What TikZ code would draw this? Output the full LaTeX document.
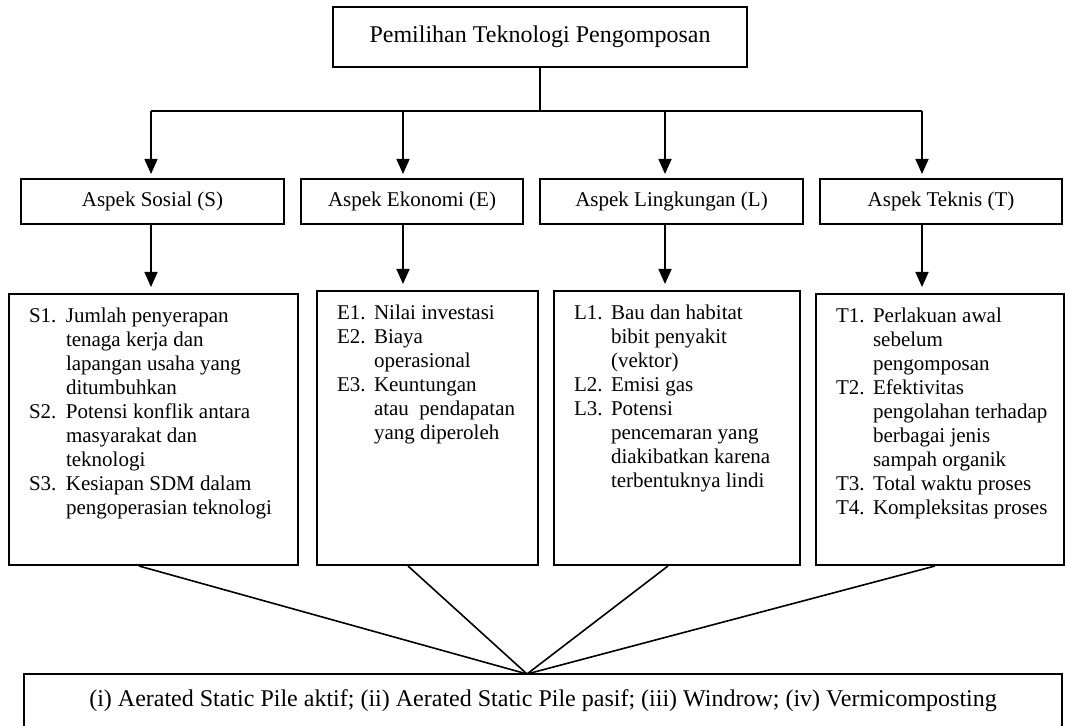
\documentclass[tikz,border=0pt]{standalone}
\usepackage{fontspec}
\setmainfont{Liberation Serif}
\usetikzlibrary{arrows.meta}

% isi kotak kriteria: lebar, tinggi, baris-baris
\newcommand{\isi}[3]{\parbox[c][#2][t]{#1}{\begin{tabular}{@{}p{18.5pt}@{}l@{}}#3\end{tabular}}}

\begin{document}
\begin{tikzpicture}[x=0.5pt, y=-0.5pt,
    judul/.style={draw, line width=1pt, inner sep=0pt, font=\fontsize{12}{14}\selectfont},
    aspek/.style={draw, line width=1pt, minimum height=22.5pt, inner sep=0pt, font=\fontsize{10.5}{12}\selectfont},
    kotak/.style={draw, line width=1pt, anchor=north west, inner xsep=10pt, inner ysep=6pt, font=\fontsize{10.5}{12}\selectfont},
    panah/.style={line width=0.8pt, -{Triangle[length=7.5pt, width=6.5pt]}},
    garis/.style={line width=0.8pt}]
    \useasboundingbox (0,0) rectangle (1065,726);

    % Judul
    \node[judul, minimum width=207pt, minimum height=30pt] (pilih) at (540,37) {Pemilihan Teknologi Pengomposan};

    % Aspek
    \node[aspek, minimum width=131.5pt] (aspS) at (152.5,201.5) {Aspek Sosial (S)};
    \node[aspek, minimum width=111pt] (aspE) at (412,201.5) {Aspek Ekonomi (E)};
    \node[aspek, minimum width=131.5pt] (aspL) at (671.5,201.5) {Aspek Lingkungan (L)};
    \node[aspek, minimum width=121pt] (aspT) at (941,201.5) {Aspek Teknis (T)};

    % Kriteria
    \node[kotak] (isiS) at (8,293) {\isi{124.5pt}{123.5pt}{%
        S1. & Jumlah penyerapan\\ & tenaga kerja dan\\ & lapangan usaha yang\\ & ditumbuhkan\\
        S2. & Potensi konflik antara\\ & masyarakat dan\\ & teknologi\\
        S3. & Kesiapan SDM dalam\\ & pengoperasian teknologi}};
    \node[kotak] (isiE) at (316,290) {\isi{90.5pt}{125pt}{%
        E1. & Nilai investasi\\
        E2. & Biaya\\ & operasional\\
        E3. & Keuntungan\\ & atau\ \ pendapatan\\ & yang diperoleh}};
    \node[kotak] (isiL) at (553,290) {\isi{103pt}{125pt}{%
        L1. & Bau dan habitat\\ & bibit penyakit\\ & (vektor)\\
        L2. & Emisi gas\\
        L3. & Potensi\\ & pencemaran yang\\ & diakibatkan karena\\ & terbentuknya lindi}};
    \node[kotak] (isiT) at (815,293) {\isi{104pt}{123.5pt}{%
        T1. & Perlakuan awal\\ & sebelum\\ & pengomposan\\
        T2. & Efektivitas\\ & pengolahan terhadap\\ & berbagai jenis\\ & sampah organik\\
        T3. & Total waktu proses\\
        T4. & Kompleksitas proses}};

    % Alternatif
    \node[judul, minimum width=519pt, minimum height=27pt] (hasil) at (543,701) {(i) Aerated Static Pile aktif; (ii) Aerated Static Pile pasif; (iii) Windrow; (iv) Vermicomposting};

    % Cabang
    \coordinate (kS) at (151,111);
    \coordinate (kE) at (403,111);
    \coordinate (kL) at (665,111);
    \coordinate (kT) at (922,111);
    \draw[line width=1pt] (pilih) -- (pilih.south |- kS);
    \draw[line width=1pt] (kS) -- (kT);
    \foreach \a in {S,E,L,T} {
        \draw[panah, shorten >=2pt] (k\a) -- (k\a |- asp\a.north);
        \draw[panah, shorten >=3pt] (asp\a.south -| k\a) -- (isi\a.north -| k\a);
    }

    % Garis ke alternatif
    \coordinate (temu) at (527,674);
    \coordinate (gS) at (139,0);
    \coordinate (gE) at (408,0);
    \coordinate (gL) at (668,0);
    \coordinate (gT) at (935,0);
    \foreach \a in {S,E,L,T}
        \draw[garis] (isi\a.south -| g\a) -- (temu);

\end{tikzpicture}
\end{document}
